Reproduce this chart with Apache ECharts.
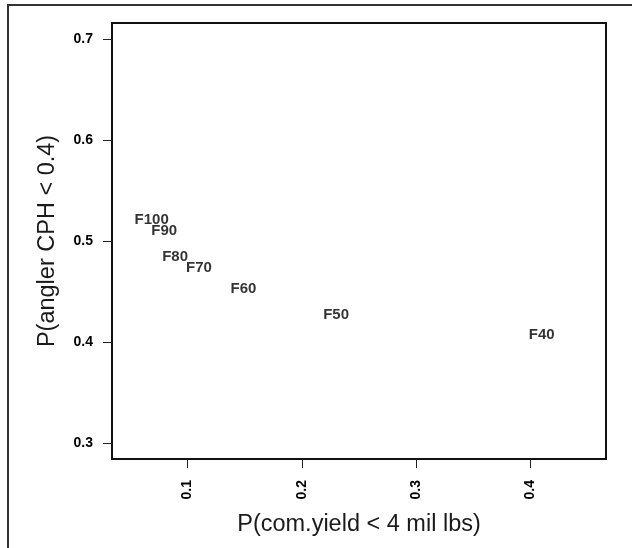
<!DOCTYPE html>
<html>
<head>
<meta charset="utf-8">
<script src="https://cdn.jsdelivr.net/npm/echarts@6/dist/echarts.min.js"></script>
<style>
  html, body { margin: 0; padding: 0; background: #fff; }
  #myScatter { width: 632px; height: 548px; }
</style>
</head>
<body>
<div id="myScatter"></div>
<script>
// 各方案标签及坐标
var fishingLevels = ["F100", "F90", "F80", "F70", "F60", "F50", "F40"];
var comYieldProb = [0.0687, 0.0796, 0.0892, 0.110, 0.149, 0.230, 0.4098];
var anglerCphProb = [0.5225, 0.5121, 0.4864, 0.4750, 0.4545, 0.429, 0.4092];
var xTicks = [0.1, 0.2, 0.3, 0.4];
var yTicks = [0.3, 0.4, 0.5, 0.6, 0.7];

var font = "Liberation Sans, Arial, sans-serif";

var points = fishingLevels.map(function (name, i) {
  return { name: name, value: [comYieldProb[i], anglerCphProb[i]] };
});

var chart = echarts.init(document.getElementById("myScatter"));
chart.setOption({
  animation: false,
  backgroundColor: "#fff",
  graphic: [
    {
      // 外框（上、左）
      type: "polyline",
      shape: { points: [[8, 548], [8, 5], [632, 5]] },
      style: { stroke: "#333", lineWidth: 2, fill: null }
    }
  ],
  grid: {
    left: 112,
    right: 26,
    top: 23,
    bottom: 89,
    show: true,
    borderColor: "#111",
    borderWidth: 2,
    backgroundColor: "#fff"
  },
  xAxis: {
    type: "value",
    min: 0.034,
    max: 0.466,
    name: "P(com.yield < 4 mil lbs)",
    nameLocation: "middle",
    nameGap: 54,
    nameTextStyle: { color: "#1a1a1a", fontSize: 23.5, fontFamily: font },
    axisLine: { show: false },
    splitLine: { show: false },
    axisTick: {
      show: true,
      inside: false,
      length: 9,
      customValues: xTicks,
      lineStyle: { color: "#222", width: 1 }
    },
    axisLabel: {
      customValues: xTicks,
      rotate: 90,
      margin: 21,
      color: "#000",
      fontSize: 14,
      fontWeight: "bold",
      fontFamily: font,
      formatter: function (v) { return v.toFixed(1); }
    }
  },
  yAxis: {
    type: "value",
    min: 0.284,
    max: 0.716,
    name: "P(angler CPH < 0.4)",
    nameLocation: "middle",
    nameGap: 52,
    nameTextStyle: { color: "#1a1a1a", fontSize: 23.5, fontFamily: font },
    axisLine: { show: false },
    splitLine: { show: false },
    axisTick: {
      show: true,
      inside: false,
      length: 9,
      customValues: yTicks,
      lineStyle: { color: "#222", width: 1 }
    },
    axisLabel: {
      customValues: yTicks,
      margin: 19,
      color: "#000",
      fontSize: 14,
      fontWeight: "bold",
      fontFamily: font,
      formatter: function (v) { return v.toFixed(1); }
    }
  },
  series: [
    {
      type: "scatter",
      symbolSize: 1,
      itemStyle: { color: "rgba(0,0,0,0)" },
      data: points,
      label: {
        show: true,
        position: "inside",
        offset: [0, 2],
        formatter: "{b}",
        color: "#000",
        fontSize: 15,
        fontWeight: "bold",
        fontFamily: font
      }
    }
  ]
});
</script>
</body>
</html>
